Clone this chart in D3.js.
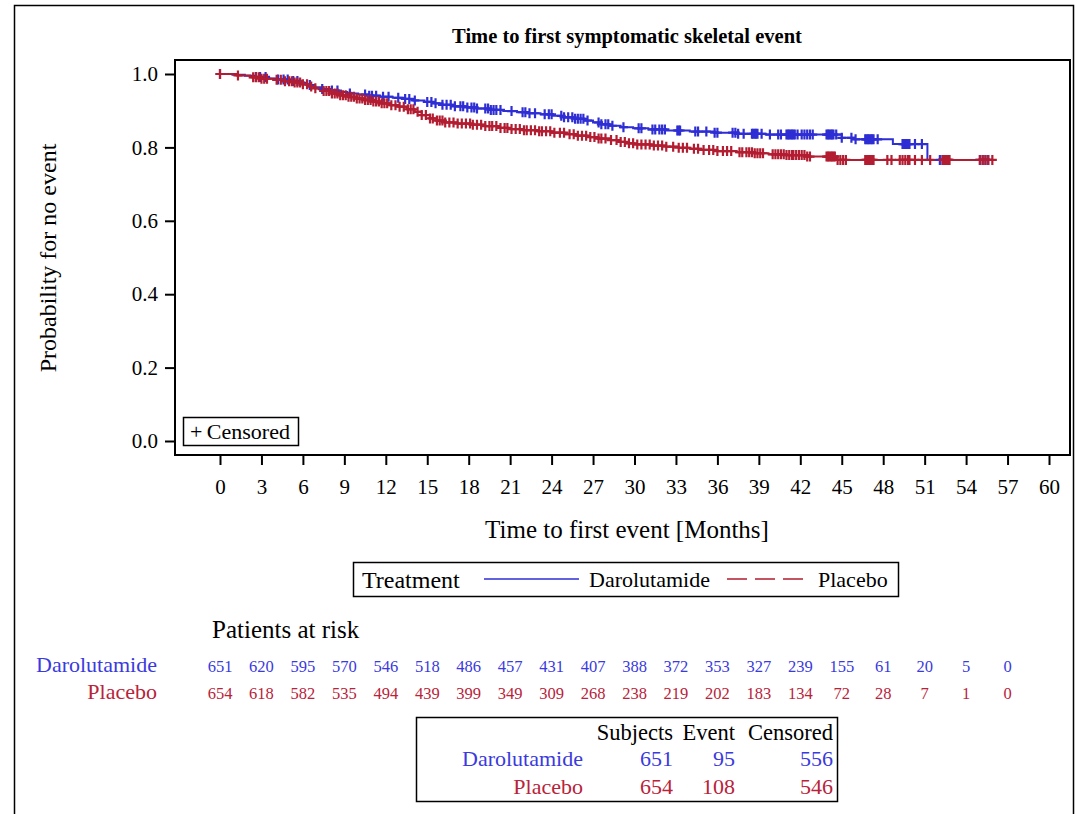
<!DOCTYPE html>
<html><head><meta charset="utf-8">
<script src="https://cdn.jsdelivr.net/npm/d3@7"></script>
<style>body{margin:0;background:#fff}svg{display:block}text{font-family:"Liberation Serif","Times New Roman",serif}</style>
</head><body>
<svg id="c" width="1077" height="814"></svg>
<script>
const groups = ["Darolutamide", "Placebo"];
const colors = ["#2e2ed4", "#b31d31"];
const textColors = ["#3a3ade", "#b8233a"];
const xTicks = d3.range(0, 61, 3);
const yTicks = [0.0, 0.2, 0.4, 0.6, 0.8, 1.0];
const riskTimes = d3.range(0, 58, 3);
const riskDaro = [651,620,595,570,546,518,486,457,431,407,388,372,353,327,239,155,61,20,5,0];
const riskPlac = [654,618,582,535,494,439,399,349,309,268,238,219,202,183,134,72,28,7,1,0];
const summaryHeaders = ["Subjects", "Event", "Censored"];
const summaryDaro = [651, 95, 556];
const summaryPlac = [654, 108, 546];

// Kaplan-Meier step points [time, survival]
const stepsDaro = [[0,1.0],[0.9,0.998],[1.8,0.995],[2.5,0.992],[3.4,0.988],[4.2,0.985],[5.1,0.981],[5.8,0.976],[6.3,0.970],[6.8,0.964],[7.4,0.959],[8.0,0.955],[8.6,0.951],[9.2,0.947],[10.0,0.944],[10.8,0.941],[11.6,0.938],[12.5,0.935],[13.3,0.932],[14.0,0.928],[14.8,0.924],[15.5,0.920],[16.1,0.916],[17.0,0.912],[17.9,0.909],[18.6,0.906],[19.6,0.902],[20.5,0.899],[21.5,0.896],[22.3,0.893],[23.2,0.890],[24.1,0.886],[24.9,0.882],[25.7,0.878],[26.4,0.873],[27.0,0.868],[27.6,0.863],[28.2,0.859],[29.0,0.855],[29.9,0.852],[31.0,0.849],[32.3,0.846],[34.0,0.843],[35.8,0.840],[37.5,0.837],[39.5,0.835],[45.0,0.826],[45.9,0.822],[48.7,0.809],[51.2,0.766]];
const endDaro = 55.7;
const stepsPlac = [[0,1.0],[1.2,0.996],[2.2,0.991],[3.0,0.987],[3.9,0.984],[4.6,0.980],[5.3,0.977],[5.9,0.972],[6.4,0.966],[6.9,0.961],[7.5,0.954],[8.1,0.947],[8.7,0.942],[9.3,0.938],[9.9,0.933],[10.5,0.929],[11.1,0.925],[11.7,0.920],[12.3,0.915],[12.9,0.911],[13.5,0.904],[14.1,0.897],[14.6,0.888],[15.2,0.879],[15.7,0.873],[16.3,0.868],[17.2,0.865],[18.2,0.862],[19.2,0.858],[20.1,0.853],[21.0,0.850],[22.0,0.847],[23.0,0.844],[24.0,0.840],[25.0,0.836],[25.8,0.832],[26.6,0.828],[27.4,0.824],[28.2,0.820],[28.8,0.815],[29.4,0.811],[30.0,0.808],[31.2,0.805],[32.3,0.802],[33.2,0.799],[34.0,0.796],[34.8,0.793],[36.0,0.790],[37.4,0.787],[38.7,0.784],[39.7,0.781],[41.0,0.779],[42.5,0.775],[44.6,0.766]];
const endPlac = 56.0;

// censoring times (months)
const censDaro = [0,2.6,2.9,3.3,4.2,4.6,4.9,5.3,5.6,6.5,7.4,8.1,8.5,9.4,10.5,10.8,11.0,11.3,11.8,12.2,12.9,13.4,13.7,14.1,15.0,15.3,15.6,16.1,16.4,16.7,17.0,17.4,17.6,17.9,18.2,18.4,18.6,19.2,19.4,19.6,19.8,20.0,20.3,21.1,21.9,22.1,22.4,22.8,23.5,23.8,24.0,24.7,24.9,25.2,25.5,25.7,25.9,26.1,26.3,26.6,27.4,27.6,27.9,28.1,28.4,29.2,30.3,30.5,31.3,31.5,31.8,32.0,32.2,33.1,33.2,33.3,34.4,34.6,35.2,35.8,36.0,37.1,37.3,37.5,37.9,38.5,38.6,38.7,38.8,38.9,39.2,39.8,40.4,40.6,41.0,41.1,41.2,41.3,41.4,41.5,41.6,41.8,42.1,42.3,42.5,42.7,42.9,43.9,44.0,44.1,44.2,44.3,44.4,44.6,45.0,45.7,46.0,46.7,46.8,46.9,47.0,47.1,47.2,47.3,47.6,49.4,49.5,49.6,49.7,49.8,49.9,50.3,50.8,52.1,52.3,52.5,52.7,55.0,55.2,55.4,55.6];
const censPlac = [0,1.3,2.4,2.6,2.8,3.0,3.2,3.4,4.1,4.4,4.7,5.0,5.2,5.4,5.6,5.8,6.0,6.3,6.6,6.9,7.5,7.7,7.9,8.1,8.3,8.5,8.7,8.9,9.1,9.3,9.5,9.7,9.9,10.1,10.3,10.5,10.7,10.9,11.1,11.3,11.5,11.7,11.9,12.1,12.4,12.7,13.0,13.3,13.6,13.8,14.0,14.3,14.6,14.9,15.2,15.4,15.7,15.9,16.1,16.3,16.6,16.9,17.2,17.5,17.8,18.1,18.3,18.6,18.9,19.2,19.5,19.7,20.0,20.3,20.6,20.8,21.1,21.4,21.7,22.0,22.2,22.5,22.8,23.1,23.3,23.6,23.9,24.2,24.6,24.9,25.3,25.6,25.9,26.2,26.5,26.8,27.1,27.4,27.6,27.9,28.3,28.7,29.0,29.3,29.6,29.9,30.2,30.5,30.8,31.1,31.4,31.7,32.0,32.3,32.8,33.2,33.5,33.8,34.3,34.6,35.0,35.4,35.7,36.0,36.4,36.7,37.0,37.6,37.8,38.1,38.3,38.5,38.7,38.9,39.1,39.3,40.0,40.2,40.4,40.6,40.8,41.0,41.2,41.4,41.5,41.7,41.9,42.1,42.3,42.5,42.7,43.9,44.0,44.1,44.2,44.3,44.4,44.5,44.7,44.9,45.1,45.3,46.7,46.8,46.9,47.0,47.1,47.2,47.3,48.3,48.6,49.2,49.4,49.6,49.8,49.9,50.3,50.8,51.4,52.3,52.4,52.5,52.6,52.7,52.8,55.0,55.2,55.4,55.6,55.9];

const svg = d3.select("#c");
// outer frame
svg.append("rect").attr("x",14.5).attr("y",5.5).attr("width",1059).attr("height",830)
  .attr("fill","none").attr("stroke","#000").attr("stroke-width",1.5);

const L = 175, R = 1070, T = 60, B = 455;
const x = d3.scaleLinear().domain([0, 60]).range([220, 1049]);
const y = d3.scaleLinear().domain([0, 1]).range([441, 74]);

// title
svg.append("text").attr("x", 627).attr("y", 43).attr("text-anchor","middle")
  .attr("font-weight","bold").attr("font-size", 20.5).text("Time to first symptomatic skeletal event");

// plot frame
svg.append("rect").attr("x",L).attr("y",T).attr("width",R-L).attr("height",B-T)
  .attr("fill","none").attr("stroke","#000").attr("stroke-width",2);

// axes
const xAxis = d3.axisBottom(x).tickValues(xTicks).tickSize(10).tickPadding(14).tickFormat(d3.format("d"));
const gx = svg.append("g").attr("transform",`translate(0,${B})`).call(xAxis);
gx.select(".domain").remove();
gx.selectAll("line").attr("stroke","#000").attr("stroke-width",2);
gx.selectAll("text").attr("font-size",21).attr("font-family","Liberation Serif").attr("fill","#000");

const yAxis = d3.axisLeft(y).tickValues(yTicks).tickSize(10).tickPadding(7).tickFormat(d3.format(".1f"));
const gy = svg.append("g").attr("transform",`translate(${L},0)`).call(yAxis);
gy.select(".domain").remove();
gy.selectAll("line").attr("stroke","#000").attr("stroke-width",2);
gy.selectAll("text").attr("font-size",21).attr("font-family","Liberation Serif").attr("fill","#000");

svg.append("text").attr("x", 627).attr("y", 538).attr("text-anchor","middle")
  .attr("font-size", 25).text("Time to first event [Months]");
svg.append("text").attr("transform","translate(56,258) rotate(-90)").attr("text-anchor","middle")
  .attr("font-size", 24).text("Probability for no event");

// curves
const stepsAll = [stepsDaro, stepsPlac];
const ends = [endDaro, endPlac];
const censAll = [censDaro, censPlac];
const line = d3.line().x(d => x(d[0])).y(d => y(d[1])).curve(d3.curveStepAfter);
function survAt(steps, t){ let s = steps[0][1]; for (const p of steps){ if (p[0] <= t) s = p[1]; } return s; }

const plotG = svg.append("g");
stepsAll.forEach((steps, i) => {
  const pts = steps.concat([[ends[i], steps[steps.length-1][1]]]);
  plotG.append("path").datum(pts).attr("d", line).attr("fill","none")
    .attr("stroke", colors[i]).attr("stroke-width", 2);
});
censAll.forEach((cens, i) => {
  const g = plotG.append("g").attr("stroke", colors[i]).attr("stroke-width", 2.2);
  cens.forEach(t => {
    const cx = x(t), cy = y(survAt(stepsAll[i], t));
    g.append("path").attr("d", `M${cx-4.5},${cy}H${cx+4.5}M${cx},${cy-5}V${cy+5}`);
  });
});

// censored legend
svg.append("rect").attr("x",183.5).attr("y",417.5).attr("width",115).attr("height",28)
  .attr("fill","#fff").attr("stroke","#000").attr("stroke-width",1.5);
svg.append("text").attr("x",190).attr("y",439).attr("font-size",22).text("+\u2009Censored");

// treatment legend
svg.append("rect").attr("x",353.5).attr("y",562.5).attr("width",545).attr("height",34)
  .attr("fill","none").attr("stroke","#000").attr("stroke-width",1.5);
svg.append("text").attr("x",362).attr("y",588).attr("font-size",24).text("Treatment");
svg.append("line").attr("x1",484).attr("x2",579).attr("y1",579).attr("y2",579)
  .attr("stroke",colors[0]).attr("stroke-width",1.5);
svg.append("text").attr("x",589).attr("y",587).attr("font-size",22).text(groups[0]);
svg.append("line").attr("x1",727).attr("x2",803).attr("y1",579).attr("y2",579)
  .attr("stroke",colors[1]).attr("stroke-width",1.5).attr("stroke-dasharray","20,8");
svg.append("text").attr("x",818).attr("y",587).attr("font-size",22).text(groups[1]);

// patients at risk
svg.append("text").attr("x",212).attr("y",638).attr("font-size",25).text("Patients at risk");
const riskRows = [riskDaro, riskPlac];
const rowY = [672, 699];
riskRows.forEach((vals, i) => {
  svg.append("text").attr("x",157).attr("y",rowY[i]).attr("text-anchor","end")
    .attr("font-size",22).attr("fill",textColors[i]).text(groups[i]);
  svg.append("g").selectAll("text").data(vals).join("text")
    .attr("x",(d,j) => x(riskTimes[j])).attr("y",rowY[i]).attr("text-anchor","middle")
    .attr("font-size",16.5).attr("fill",textColors[i]).text(d => d);
});

// summary table
svg.append("rect").attr("x",416.5).attr("y",717.5).attr("width",421).attr("height",84)
  .attr("fill","none").attr("stroke","#000").attr("stroke-width",1.5);
const colRight = [673, 735, 833];
summaryHeaders.forEach((h, j) => {
  svg.append("text").attr("x",colRight[j]).attr("y",740).attr("text-anchor","end")
    .attr("font-size",22.5).text(h);
});
[summaryDaro, summaryPlac].forEach((vals, i) => {
  const yy = [766, 794][i];
  svg.append("text").attr("x",583).attr("y",yy).attr("text-anchor","end")
    .attr("font-size",22).attr("fill",textColors[i]).text(groups[i]);
  vals.forEach((v, j) => {
    svg.append("text").attr("x",colRight[j]).attr("y",yy).attr("text-anchor","end")
      .attr("font-size",22).attr("fill",textColors[i]).text(v);
  });
});
</script>
</body></html>
